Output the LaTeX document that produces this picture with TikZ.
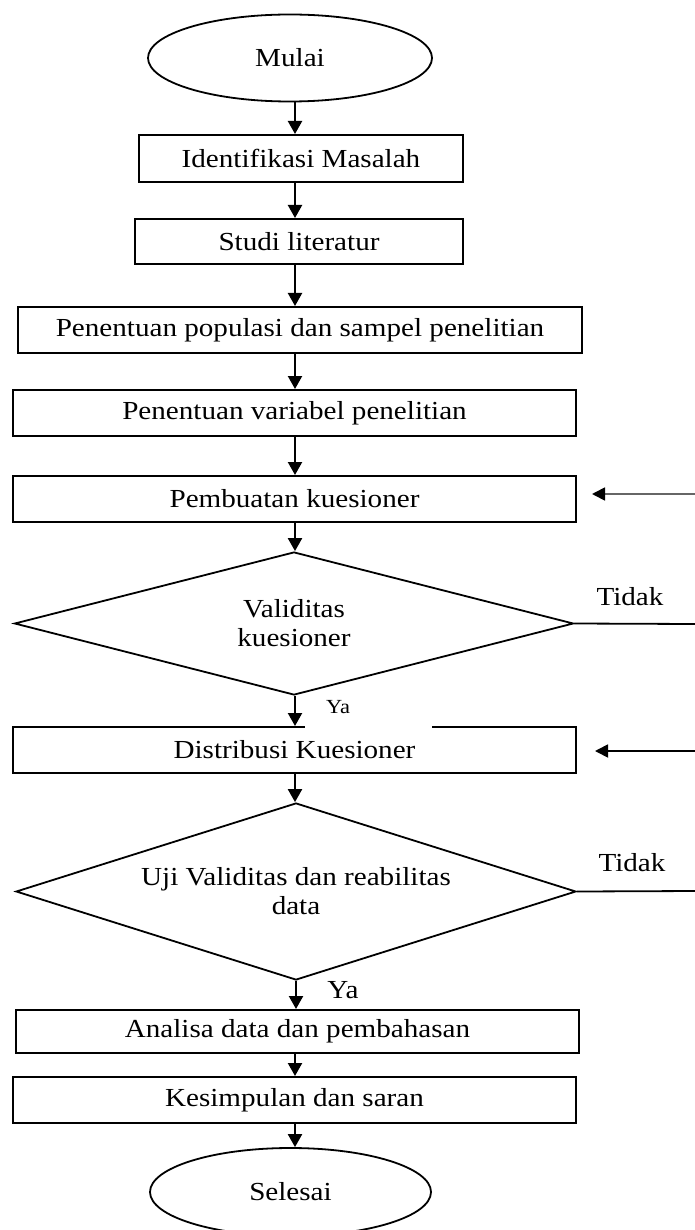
\documentclass[tikz,border=0pt]{standalone}
\usepackage{fontspec}
\setmainfont{Liberation Serif}[FakeStretch=1.12]
\usetikzlibrary{shapes.geometric,arrows.meta}
\begin{document}
\begin{tikzpicture}[x=1pt,y=-1pt,
  font=\fontsize{26}{29}\selectfont,
  box/.style={draw, line width=2pt, rectangle, inner sep=0pt, align=center},
  term/.style={draw, ellipse, line width=1.8pt, inner sep=0pt},
  dec/.style={draw, diamond, aspect=3.2, line width=1.8pt, inner sep=0pt, align=center},
  arr/.style={line width=2.2pt, -{Triangle[length=13pt,width=14pt]}},
  fb/.style={line width=1.8pt},
  lbl/.style={inner sep=0pt}]
\useasboundingbox (0,0) rectangle (695,1230);
\fill[white] (0,0) rectangle (695,1230);

\coordinate (ax) at (295,0);

\node[term, minimum width=284pt, minimum height=87pt] (start) at (290,58) {Mulai};
\node[box, minimum width=324pt, minimum height=47pt] (b1) at (301,158.5) {Identifikasi Masalah};
\node[box, minimum width=328pt, minimum height=45pt] (b2) at (299,241.5) {Studi literatur};
\node[box, minimum width=564pt, minimum height=46pt] (b3) at (300,330) {Penentuan populasi dan sampel penelitian};
\node[box, minimum width=563pt, minimum height=46pt] (b4) at (294.5,413) {Penentuan variabel penelitian};
\node[box, minimum width=563pt, minimum height=46pt] (b5) at (294.5,499) {Pembuatan kuesioner};
\node[dec, minimum width=559pt, minimum height=143pt] (d1) at (294,623.5) {Validitas\\kuesioner};
\node[box, minimum width=563pt, minimum height=46pt] (b6) at (294.5,750) {Distribusi Kuesioner};
\fill[white] (305,723) rectangle (432,731);
\node[dec, minimum width=560pt, minimum height=177pt] (d2) at (296,891.5) {Uji Validitas dan reabilitas\\data};
\node[box, minimum width=563pt, minimum height=43pt] (b7) at (297.5,1031.5) {Analisa data dan pembahasan};
\node[box, minimum width=563pt, minimum height=46pt] (b8) at (294.5,1100) {Kesimpulan dan saran};
\node[term, minimum width=281pt, minimum height=88pt] (end) at (290.5,1192) {Selesai};

% main flow
\draw[arr] (ax |- start.south) -- (ax |- b1.north);
\draw[arr] (ax |- b1.south) -- (ax |- b2.north);
\draw[arr] (ax |- b2.south) -- (ax |- b3.north);
\draw[arr] (ax |- b3.south) -- (ax |- b4.north);
\draw[arr] (ax |- b4.south) -- (ax |- b5.north);
\draw[arr] (ax |- b5.south) -- (ax |- d1.north);
\draw[arr] (ax |- d1.south) -- (ax |- b6.north);
\draw[arr] (ax |- b6.south) -- (ax |- d2.north);
\draw[arr] (d2.south) -- (d2.south |- b7.north);
\draw[arr] (ax |- b7.south) -- (ax |- b8.north);
\draw[arr] (ax |- b8.south) -- (ax |- end.north);

% feedback (Tidak) branches, leaving the picture on the right
\coordinate (r1) at (695,624);
\coordinate (r2) at (695,494);
\coordinate (r3) at (695,891);
\coordinate (r4) at (695,751);
\draw[fb] (d1.east) -- (r1);
\draw[fb, draw=black!60, -{Triangle[length=13pt,width=13pt,black]}] (r2) -- ([xshift=15pt]r2 -| b5.east);
\draw[fb] (d2.east) -- (r3);
\draw[fb, -{Triangle[length=13pt,width=13pt]}] (r4) -- ([xshift=18pt]r4 -| b6.east);

% labels
\node[lbl] (t1) at (630,597) {Tidak};
\node[lbl] (t2) at (632,863) {Tidak};
\node[lbl, font=\fontsize{20}{22}\selectfont] (y1) at (338,707) {Ya};
\node[lbl] (y2) at (343,990) {Ya};
\end{tikzpicture}
\end{document}
